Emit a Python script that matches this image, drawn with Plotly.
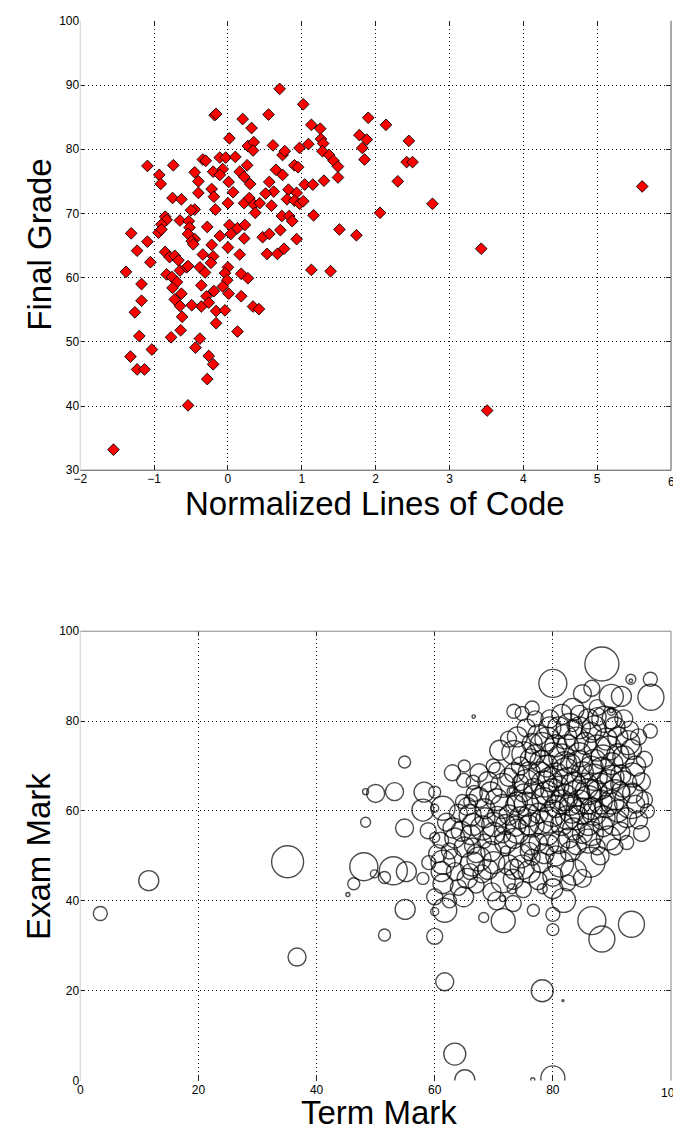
import plotly.graph_objects as go

# ---------------- Top chart: Normalized Lines of Code vs Final Grade ----------------
loc_norm = [
    0.70, 1.02, -0.18, -0.16, 0.55, 0.20, 0.32, 0.02, 1.13, 1.25,
    1.26, 1.29, 1.09, 0.97, 0.61, 0.27, 0.35, 0.34, 0.74, 0.77,
    1.28, 1.37, 1.43, 1.49, 1.49, -0.34, -0.30, -0.11, -0.03, 0.10,
    0.26, -0.45, -0.20, -0.07, -0.11, 0.16, 0.22, 0.30, 0.65, 0.74,
    0.90, 0.95, 1.04, 1.15, 1.30, -0.40, -0.40, -0.22, -0.19, 0.01,
    0.07, 0.56, 0.62, 0.51, 0.82, 0.93, 0.80, 0.90, 0.97, 1.02,
    0.00, 0.22, 0.29, 0.35, 0.43, 0.59, 0.37, -0.17, -0.45, 0.73,
    0.83, 0.87, 1.16, 1.51, -0.28, 0.02, 0.13, 0.23, 0.22, -0.11,
    -0.45, 0.04, 0.47, 0.56, 0.71, 0.93, -0.22, 0.00, 0.16, 0.53,
    0.67, 0.76, -0.34, -0.20, -0.23, 1.13, 1.39, -0.38, -0.31, 0.00,
    -0.04, 0.18, 0.27, -0.01, -0.36, -0.07, -0.19, 0.01, 0.18, -0.29,
    -0.36, -0.26, 0.34, 0.42, -0.16, -0.04, -0.16, 0.13, -0.38, -0.44,
    -0.26, -0.20, -0.28, -1.09, -0.74, -0.93, -0.91, -0.75, -0.63, -0.50,
    -0.85, -0.83, -0.90, -0.94, -0.90, -0.65, -0.53, -0.52, -0.54, -0.49,
    -0.47, -1.31, -1.23, -1.09, -0.85, -0.79, -0.72, -0.67, -1.05, -1.55,
    -0.54, -1.38, -1.17, -1.17, -1.26, -1.20, -1.03, -1.32, -1.23, -1.13,
    -0.83, -0.76, -0.69, -0.65, -0.56, -0.54, -0.75, -0.63, -0.72, -0.65,
    -0.49, -0.62, -0.64, -0.77, 1.90, 2.14, 1.78, 1.88, 2.45, 1.82,
    1.85, 2.42, 2.50, 2.30, 5.61, 2.77, 2.06, 1.74, 3.43, 3.51,
]
final_grade = [
    89.4, 87.0, 85.3, 85.5, 85.4, 84.7, 83.3, 81.7, 83.8, 83.2,
    81.6, 80.9, 80.8, 80.2, 80.6, 80.5, 81.1, 79.8, 79.1, 79.7,
    79.7, 79.1, 78.2, 77.3, 75.6, 78.4, 78.2, 78.7, 78.7, 78.8,
    77.5, 76.4, 76.5, 76.9, 76.0, 76.5, 75.7, 74.6, 76.8, 76.0,
    77.5, 77.2, 74.5, 74.5, 75.1, 75.0, 73.2, 73.8, 72.6, 74.9,
    73.3, 74.9, 73.4, 73.1, 73.7, 73.2, 72.2, 72.0, 71.5, 71.9,
    71.6, 71.6, 72.4, 71.4, 71.6, 71.2, 70.1, 70.6, 70.6, 69.6,
    69.6, 68.8, 69.7, 67.5, 67.9, 68.2, 67.7, 68.2, 66.1, 66.5,
    66.0, 66.8, 66.3, 66.8, 67.4, 66.0, 65.1, 64.7, 63.6, 63.7,
    63.7, 64.5, 63.6, 63.3, 62.3, 61.2, 61.0, 61.6, 60.8, 61.6,
    60.7, 60.6, 59.9, 59.6, 58.8, 58.6, 57.9, 57.5, 57.1, 57.1,
    55.5, 56.1, 55.5, 55.1, 54.8, 54.9, 52.9, 51.6, 50.5, 49.1,
    47.8, 46.5, 44.2, 77.4, 77.5, 76.0, 74.6, 72.4, 72.2, 70.5,
    69.5, 69.0, 68.3, 67.0, 67.5, 68.9, 68.8, 67.8, 66.8, 65.7,
    65.2, 66.9, 64.2, 65.6, 64.0, 63.2, 63.4, 62.7, 62.4, 33.2,
    40.1, 60.9, 59.0, 56.4, 54.6, 50.9, 48.8, 47.7, 45.7, 45.7,
    60.5, 60.1, 59.3, 61.1, 61.6, 61.8, 58.4, 57.5, 56.6, 55.6,
    55.7, 53.9, 51.8, 50.7, 84.9, 83.8, 82.2, 81.5, 81.3, 80.2,
    78.4, 78.0, 78.0, 75.0, 74.2, 71.5, 70.1, 66.6, 64.5, 39.3,
]
x1_ticks = [-2, -1, 0, 1, 2, 3, 4, 5, 6]
y1_ticks = [30, 40, 50, 60, 70, 80, 90, 100]

# ---------------- Bottom chart: Term Mark vs Exam Mark (bubble) ----------------
term_mark = [
    3.4, 11.6, 35.1, 36.7, 45.3, 46.3, 48.0, 48.3, 48.3, 50.0,
    51.5, 53.2, 54.9, 51.5, 49.8, 53.0, 55.2, 54.9, 55.0, 60.0,
    60.0, 61.7, 63.4, 65.1, 76.6, 78.2, 61.7, 64.9, 68.3, 71.6,
    73.3, 76.7, 73.1, 60.0, 61.4, 61.4, 61.1, 66.4, 67.5, 69.7,
    71.6, 73.3, 74.8, 76.5, 80.0, 80.0, 86.6, 88.3, 93.3, 81.7,
    80.0, 81.8, 80.0, 78.2, 86.3, 83.5, 81.3, 66.6, 73.4, 74.8,
    76.5, 69.9, 73.4, 75.1, 76.2, 64.9, 66.5, 66.7, 66.1, 64.7,
    71.5, 73.1, 73.1, 74.5, 58.2, 60.0, 58.0, 60.0, 61.4, 58.9,
    60.0, 63.1, 63.4, 62.5, 66.1, 68.1, 68.4, 66.4, 70.6, 72.6,
    73.7, 73.7, 71.5, 73.4, 75.9, 76.2, 72.0, 88.3, 80.0, 93.2,
    93.2, 96.5, 96.6, 86.6, 85.0, 89.9, 91.6, 89.9, 89.9, 83.4,
    83.4, 82.8, 96.5, 88.8, 90.5, 92.7, 93.3, 88.3, 93.3, 90.5,
    86.0, 83.2, 79.3, 82.1, 78.2, 90.5, 89.4, 86.0, 82.7, 79.3,
    76.5, 77.5, 79.0, 80.5, 81.5, 83.0, 84.5, 85.5, 86.5, 87.5,
    88.5, 90.0, 91.5, 89.5, 87.0, 85.0, 83.5, 81.0, 79.5, 77.8,
    76.8, 78.5, 80.5, 82.0, 84.5, 86.5, 88.0, 91.0, 92.5, 88.5,
    86.0, 84.0, 81.5, 79.0, 77.5, 75.5, 75.0, 76.0, 74.5, 77.0,
    79.0, 81.0, 84.0, 86.0, 84.5, 87.5, 79.5, 91.0, 92.0, 94.0,
    95.0, 94.5, 92.0, 89.0, 87.0, 82.5, 85.5, 80.0, 83.0, 87.5,
    89.0, 85.0, 87.5, 83.0, 80.5, 77.5, 93.5, 91.5, 95.5, 94.5,
    63.0, 65.0, 67.5, 69.0, 70.5, 68.5, 66.0, 64.0, 62.0, 65.0,
    67.0, 69.5, 70.0, 72.0, 74.5, 74.0, 72.5, 70.5, 71.0, 72.5,
    74.0, 75.5, 77.0, 63.5, 65.5, 68.0, 70.0, 72.5, 74.5, 76.0,
    78.0, 77.5, 75.0, 70.5, 67.0, 62.5, 60.5, 61.0, 59.0, 58.0,
    71.5,
    78.5, 80.5, 82.5, 84.0, 86.0, 88.0, 90.0, 86.5, 84.5, 82.0,
    80.0, 78.0, 76.5, 79.5, 82.0, 84.5, 87.0, 89.5, 91.0, 93.5,
    92.0, 90.0, 87.0, 85.0, 82.5, 80.0, 78.0, 76.0, 74.0, 72.0,
    70.0, 68.5, 66.5, 64.5, 65.5, 67.5, 69.5, 71.5, 73.5, 75.5,
    77.0, 79.0, 81.5, 83.5, 86.5, 88.5, 91.5, 84.0, 81.0, 78.5,
    76.0, 73.5, 69.0, 66.0, 63.0, 64.0, 80.0, 82.5, 85.0, 88.0,
    90.5, 92.5, 95.0, 96.0, 94.0, 95.5, 93.0, 90.0, 87.5, 81.5,
]
exam_mark = [
    37.2, 44.5, 48.7, 27.5, 41.4, 43.8, 47.6, 57.5, 64.3, 63.9,
    32.4, 64.3, 70.9, 45.2, 46.0, 46.7, 46.5, 56.2, 38.1, 37.6,
    32.1, 22.0, 5.9, 0.2, 0.2, 20.0, 37.9, 40.9, 36.3, 35.6,
    39.4, 37.9, 42.7, 40.9, 43.8, 48.6, 46.5, 48.2, 49.3, 42.0,
    44.5, 44.8, 47.5, 49.7, 37.0, 33.6, 35.6, 31.5, 34.8, 17.8,
    0.6, 40.1, 42.7, 42.7, 48.6, 46.4, 48.2, 81.0, 82.2, 81.7,
    82.9, 70.0, 73.0, 72.7, 71.6, 66.8, 66.4, 63.9, 62.1, 62.1,
    65.7, 64.4, 64.5, 66.3, 64.2, 64.2, 60.2, 60.6, 60.6, 55.6,
    54.1, 56.2, 54.0, 51.1, 54.7, 56.2, 53.3, 52.2, 58.8, 59.1,
    61.3, 56.6, 54.7, 53.9, 56.9, 52.5, 51.1, 92.7, 88.4, 89.3,
    89.0, 89.3, 85.3, 87.3, 86.1, 85.5, 85.5, 82.2, 82.4, 82.6,
    79.0, 78.8, 77.8, 80.4, 78.7, 75.2, 73.7, 69.0, 62.1, 63.6,
    64.3, 60.2, 58.0, 68.9, 74.8, 57.5, 54.0, 53.3, 54.0, 52.5,
    56.9, 77.0, 76.0, 74.5, 72.0, 70.5, 72.5, 75.0, 77.5, 74.0,
    72.0, 70.5, 68.0, 66.5, 67.5, 68.5, 66.0, 65.5, 67.0, 68.5,
    65.0, 62.5, 61.0, 63.0, 62.0, 60.5, 62.0, 60.0, 58.5, 58.5,
    57.0, 58.5, 57.0, 55.0, 59.5, 61.5, 64.0, 68.5, 70.0, 72.5,
    70.0, 78.5, 76.0, 80.5, 81.5, 83.0, 80.5, 76.5, 72.0, 70.0,
    66.5, 76.5, 80.5, 76.0, 71.0, 74.5, 65.5, 64.5, 61.5, 64.5,
    61.0, 55.0, 52.0, 51.0, 50.0, 53.0, 64.0, 64.5, 62.5, 58.0,
    68.5, 70.0, 68.5, 66.5, 62.5, 60.5, 59.0, 59.5, 57.5, 52.0,
    50.5, 51.0, 55.0, 57.0, 58.5, 62.0, 67.5, 69.0, 73.5, 76.0,
    76.5, 78.5, 80.5, 46.5, 45.0, 46.0, 48.5, 48.0, 50.0, 46.5,
    48.5, 44.5, 42.5, 40.0, 43.5, 40.0, 50.5, 53.5, 48.5, 45.0,
    40.5,
    66.0, 68.0, 66.5, 64.0, 62.5, 65.5, 67.5, 69.5, 70.5, 70.5,
    72.5, 71.0, 75.0, 78.5, 76.5, 78.5, 78.5, 74.0, 72.5, 68.0,
    66.0, 62.0, 59.5, 60.0, 58.5, 59.5, 57.5, 59.0, 55.5, 53.0,
    57.0, 58.5, 57.0, 55.5, 61.0, 63.0, 64.0, 61.0, 68.5, 66.5,
    63.0, 64.0, 62.0, 56.0, 55.0, 56.5, 55.5, 52.5, 53.0, 50.5,
    51.0, 47.0, 47.0, 46.5, 49.5, 43.0, 45.5, 44.0, 45.0, 50.0,
    52.0, 53.0, 55.0, 60.0, 61.5, 71.5, 78.0, 80.5, 81.0, 81.5,
]
bubble_value = [
    7, 10, 16, 9, 2, 6, 14, 5, 3, 9,
    6, 9, 6, 6, 4, 14, 10, 9, 10, 4,
    8, 9, 11, 10, 2, 11, 12, 10, 5, 12,
    8, 6, 5, 8, 10, 12, 10, 12, 12, 9,
    12, 10, 12, 8, 7, 6, 14, 13, 13, 1,
    12, 12, 10, 5, 15, 13, 13, 1.7, 7, 7,
    7, 7, 12, 12, 10, 7, 7, 8, 7, 7,
    12, 5, 3, 8, 10, 6, 11, 4, 12, 8,
    5, 10, 10, 8, 10, 12, 7, 8, 10, 10,
    10, 10, 8, 10, 10, 10, 5, 17, 14, 5,
    1.7, 7, 13, 8, 9, 12, 10, 4, 2.3, 11,
    6, 13, 7, 13, 10, 12, 10, 13, 17, 15,
    13, 13, 13, 13, 12, 13, 12, 12, 10, 10,
    12, 10, 12, 11, 13, 10, 12, 11, 10, 13,
    12, 11, 10, 12, 13, 11, 12, 10, 12, 11,
    10, 12, 11, 13, 12, 11, 12, 11, 10, 12,
    11, 12, 11, 12, 10, 12, 9, 11, 9, 10,
    11, 11, 12, 10, 9, 8, 9, 10, 11, 10,
    9, 8, 9, 11, 12, 11, 13, 12, 11, 10,
    11, 10, 8, 10, 10, 9, 10, 9, 8, 9,
    8, 6, 9, 10, 11, 10, 11, 9, 9, 10,
    9, 10, 11, 10, 11, 10, 9, 8, 10, 8,
    10, 9, 8, 9, 10, 9, 11, 10, 12, 11,
    10, 9, 8, 9, 8, 7, 9, 8, 7, 6,
    3,
    13, 12, 14, 13, 14, 13, 12, 12, 13, 12,
    12, 11, 10, 11, 12, 11, 12, 12, 11, 12,
    13, 12, 12, 13, 12, 13, 12, 11, 12, 11,
    12, 10, 11, 10, 9, 10, 11, 12, 10, 12,
    13, 12, 12, 11, 12, 10, 9, 10, 11, 10,
    9, 10, 10, 8, 9, 8, 10, 8, 9, 9,
    8, 7, 8, 7, 9, 8, 9, 10, 9, 10,
]
x2_ticks = [0, 20, 40, 60, 80, 100]
y2_ticks = [0, 20, 40, 60, 80, 100]

W, H = 673, 1137
FONT = "Liberation Sans, Arial, Helvetica, sans-serif"

fig = go.Figure()

fig.add_trace(go.Scatter(
    x=loc_norm, y=final_grade, mode="markers", xaxis="x", yaxis="y",
    marker=dict(symbol="diamond", size=9, color="#ff0000",
                line=dict(color="black", width=0.9)),
    showlegend=False, hoverinfo="x+y",
))

fig.add_trace(go.Scatter(
    x=term_mark, y=exam_mark, mode="markers", xaxis="x2", yaxis="y2",
    marker=dict(symbol="circle-open", size=bubble_value, sizemode="diameter",
                sizeref=0.5, color="black", line=dict(color="black", width=1.4)),
    showlegend=False, hoverinfo="x+y",
))

# plot area domains in paper coordinates (pixel based)
x_dom = [74 / W, 671 / W]
y1_dom = [1 - 469 / H, 1 - 14 / H]
y2_dom = [1 - 1087 / H, 1 - 632 / H]

axis_common = dict(
    showgrid=True, gridcolor="#111", griddash="1px,3px", gridwidth=1,
    ticks="inside", ticklen=5, tickcolor="#222", tickwidth=1,
    mirror="ticks", showline=False, zeroline=False,
    tickfont=dict(family=FONT, size=12, color="black"),
    fixedrange=True,
)

fig.update_layout(
    width=W, height=H,
    margin=dict(l=0, r=0, t=0, b=0),
    paper_bgcolor="white", plot_bgcolor="white",
    xaxis=dict(domain=x_dom, anchor="y", range=[-2, 6], tickvals=x1_ticks, **axis_common),
    yaxis=dict(domain=y1_dom, anchor="x", range=[30, 100], tickvals=y1_ticks, **axis_common),
    xaxis2=dict(domain=x_dom, anchor="y2", range=[0, 100], tickvals=x2_ticks, **axis_common),
    yaxis2=dict(domain=y2_dom, anchor="x2", range=[0, 100], tickvals=y2_ticks, **axis_common),
)

# axis frame lines (matching the reference's partial box)
def frame(xref, yref, x0, y0, x1, y1, color):
    fig.add_shape(type="line", xref=xref, yref=yref, x0=x0, y0=y0, x1=x1, y1=y1,
                  line=dict(color=color, width=1), layer="above")

frame("x domain", "y domain", 0, 0, 1, 0, "#555")
frame("x domain", "y domain", 1, 0, 1, 1, "#555")
frame("x domain", "y domain", 0, 0, 0, 1, "#d0d0d0")
frame("x2 domain", "y2 domain", 0, 1, 1, 1, "#888")
frame("x2 domain", "y2 domain", 1, 0, 1, 1, "#888")
frame("x2 domain", "y2 domain", 0, 0, 0, 1, "#d0d0d0")

# last x tick labels sit at the page edge (clipped in the reference)
tick_font = dict(family=FONT, size=12, color="black")
fig.add_annotation(text=str(x1_ticks[-1]), xref="x", yref="paper", x=x1_ticks[-1],
                   y=1 - 472 / H, showarrow=False, xanchor="center", yanchor="top",
                   font=tick_font)
fig.add_annotation(text=str(x2_ticks[-1]), xref="x2", yref="paper", x=x2_ticks[-1],
                   y=1 - 1090 / H, showarrow=False, xanchor="center", yanchor="top",
                   font=tick_font)

title_font = dict(family=FONT, size=33, color="black")
fig.add_annotation(text="Final Grade", xref="paper", yref="paper",
                   x=32 / W, y=1 - 241 / H, textangle=-90, showarrow=False,
                   xanchor="center", yanchor="middle", font=title_font)
fig.add_annotation(text="Normalized Lines of Code", xref="paper", yref="paper",
                   x=372 / W, y=1 - 503 / H, showarrow=False,
                   xanchor="center", yanchor="middle", font=title_font)
fig.add_annotation(text="Exam Mark", xref="paper", yref="paper",
                   x=32 / W, y=1 - 860 / H, textangle=-90, showarrow=False,
                   xanchor="center", yanchor="middle", font=title_font)
fig.add_annotation(text="Term Mark", xref="paper", yref="paper",
                   x=376 / W, y=1 - 1119 / H, showarrow=False,
                   xanchor="center", yanchor="middle", font=title_font)

fig.write_html(
    "out.html",
    config={"displayModeBar": False},
    post_script="document.body.style.margin='0';document.body.style.overflow='hidden';",
)
